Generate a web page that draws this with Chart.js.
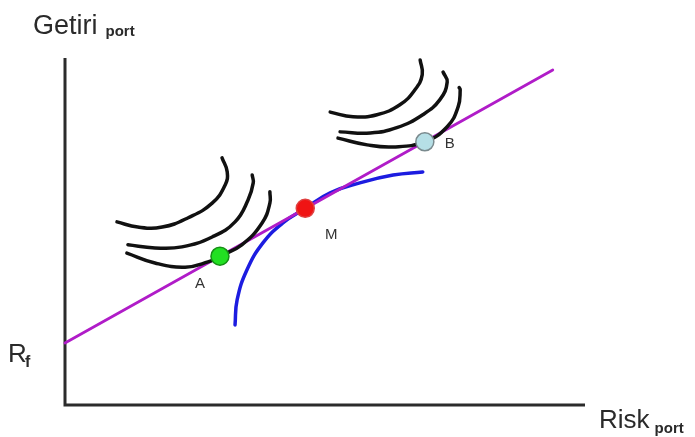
<!DOCTYPE html>
<html>
<head>
<meta charset="utf-8">
<script src="https://cdn.jsdelivr.net/npm/chart.js@4"></script>
<style>
  html, body { margin: 0; padding: 0; background: #fff; }
  #wrap { width: 695px; height: 437px; position: relative; }
</style>
</head>
<body>
<div id="wrap"><canvas id="cmlChart"></canvas></div>
<script>
// portfolios on the capital market line
const portfolioNames = ['A', 'M', 'B'];
const portfolioRisk = [29.8, 46.2, 69.2];
const portfolioReturn = [28.6, 37.8, 50.6];
const portfolioColors = ['#22e022', '#f01414', '#b6dfe6'];
const portfolioBorders = ['#169016', '#e04040', '#7a8a8e'];

// capital market line, starting at the risk-free rate
const cmlRisk = [0, 93.8];
const cmlReturn = [11.9, 64.4];

// efficient frontier of risky assets
const frontierRisk = [32.7, 33.1, 35.0, 38.1, 41.9, 46.2, 51.0, 56.7, 63.1, 68.8];
const frontierReturn = [15.4, 20.2, 26.0, 31.2, 35.0, 37.8, 40.8, 42.7, 44.2, 44.8];

// indifference curves of investor A
const curveA1Risk = [10.0, 14.0, 18.7, 23.7, 28.3, 30.8, 31.2, 30.2];
const curveA1Return = [35.2, 34.2, 34.2, 36.0, 38.8, 42.3, 44.8, 47.5];
const curveA2Risk = [12.1, 17.3, 22.5, 28.3, 32.7, 35.2, 36.2, 36.0];
const curveA2Return = [30.8, 30.2, 30.4, 32.3, 35.2, 39.4, 42.7, 44.2];
const curveA3Risk = [11.9, 17.3, 23.1, 27.5, 29.8, 34.0, 37.9, 39.4, 39.4];
const curveA3Return = [29.2, 27.3, 26.5, 27.5, 28.6, 30.8, 35.0, 38.8, 41.0];

// indifference curves of investor B
const curveB1Risk = [51.0, 55.4, 60.0, 64.4, 67.3, 68.7, 68.3];
const curveB1Return = [56.3, 55.4, 55.8, 57.7, 60.6, 63.5, 66.3];
const curveB2Risk = [52.9, 58.7, 63.8, 68.8, 72.1, 73.5, 72.7];
const curveB2Return = [52.5, 52.3, 53.3, 55.8, 58.7, 62.1, 64.0];
const curveB3Risk = [52.5, 58.1, 63.1, 69.2, 73.5, 75.6, 76.0, 75.8];
const curveB3Return = [51.3, 50.0, 49.6, 50.6, 53.5, 57.3, 60.6, 61.0];

const FONT = '"Liberation Sans", Arial, sans-serif';

const toPoints = (xs, ys) => xs.map((x, i) => ({ x: x, y: ys[i] }));

const curve = (xs, ys, color, width) => ({
  data: toPoints(xs, ys),
  showLine: true,
  borderColor: color,
  borderWidth: width,
  borderCapStyle: 'round',
  pointRadius: 0,
  tension: 0.45,
  fill: false,
  clip: false
});

// axes, titles and point names
const decorations = {
  id: 'decorations',
  beforeDatasetsDraw(chart) {
    const { ctx, scales: { x, y } } = chart;
    const x0 = x.getPixelForValue(0);
    const y0 = y.getPixelForValue(0);
    ctx.save();
    ctx.strokeStyle = '#2b2b2b';
    ctx.lineWidth = 3;
    ctx.beginPath();
    ctx.moveTo(x0, y.getPixelForValue(y.max));
    ctx.lineTo(x0, y0);
    ctx.lineTo(x.getPixelForValue(x.max), y0);
    ctx.stroke();
    ctx.restore();
  },
  afterDatasetsDraw(chart) {
    const { ctx, scales: { x, y } } = chart;
    ctx.save();
    ctx.fillStyle = '#2a2a2a';
    ctx.textBaseline = 'alphabetic';

    // Getiri_port
    ctx.font = '27px ' + FONT;
    ctx.fillText('Getiri', 33, 34);
    let w = ctx.measureText('Getiri').width;
    ctx.font = 'bold 15px ' + FONT;
    ctx.fillText('port', 33 + w + 8, 36);

    // R_f
    ctx.font = '26px ' + FONT;
    ctx.fillText('R', 8, 362);
    ctx.font = 'bold 16px ' + FONT;
    ctx.fillText('f', 25, 367);

    // Risk_port
    ctx.font = '26px ' + FONT;
    ctx.fillText('Risk', 599, 428);
    w = ctx.measureText('Risk').width;
    ctx.font = 'bold 15px ' + FONT;
    ctx.fillText('port', 599 + w + 5, 433);

    // portfolio names
    const offsets = [[-20, 28], [26, 27], [25, 2]];
    ctx.font = '15px ' + FONT;
    ctx.fillStyle = '#333';
    ctx.textAlign = 'center';
    ctx.textBaseline = 'middle';
    portfolioNames.forEach((name, i) => {
      const px = x.getPixelForValue(portfolioRisk[i]);
      const py = y.getPixelForValue(portfolioReturn[i]);
      ctx.fillText(name, px + offsets[i][0], py + offsets[i][1]);
    });
    ctx.restore();
  }
};

new Chart(document.getElementById('cmlChart'), {
  type: 'scatter',
  data: {
    datasets: [
      {
        data: toPoints(portfolioRisk, portfolioReturn),
        backgroundColor: portfolioColors,
        borderColor: portfolioBorders,
        borderWidth: 1.5,
        pointRadius: 9,
        clip: false
      },
      curve(curveA3Risk, curveA3Return, '#111', 3.5),
      curve(curveB3Risk, curveB3Return, '#111', 3.5),
      curve(cmlRisk, cmlReturn, '#b01cc8', 2.8),
      curve(frontierRisk, frontierReturn, '#1c1ce0', 3.5),
      curve(curveA1Risk, curveA1Return, '#111', 3.5),
      curve(curveA2Risk, curveA2Return, '#111', 3.5),
      curve(curveB1Risk, curveB1Return, '#111', 3.5),
      curve(curveB2Risk, curveB2Return, '#111', 3.5)
    ]
  },
  options: {
    responsive: true,
    maintainAspectRatio: false,
    animation: false,
    layout: { padding: { left: 65, right: 110, top: 58, bottom: 32 } },
    plugins: { legend: { display: false }, tooltip: { enabled: false } },
    scales: {
      x: { type: 'linear', display: false, min: 0, max: 100 },
      y: { type: 'linear', display: false, min: 0, max: 66.7 }
    }
  },
  plugins: [decorations]
});
</script>
</body>
</html>
